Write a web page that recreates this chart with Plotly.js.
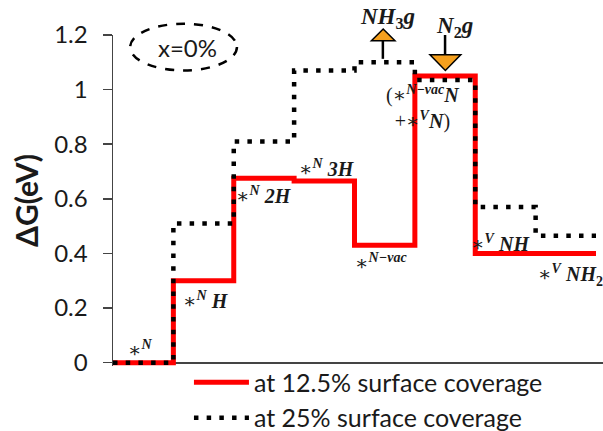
<!DOCTYPE html>
<html>
<head>
<meta charset="utf-8">
<script src="https://cdn.plot.ly/plotly-3.0.1.min.js"></script>
<style>html,body{margin:0;padding:0;background:#fff;}#chart{width:603px;height:431px;}</style>
</head>
<body>
<div id="chart"></div>
<script>
// Reaction steps (x positions of each step start) and free energies (eV)
const steps = [0, 1, 2, 3, 4, 5, 6, 7, 8];
const cov125 = [0, 0.30, 0.675, 0.665, 0.43, 1.05, 0.40, 0.40, 0.40];
const cov25  = [0, 0.51, 0.81, 1.07, 1.10, 1.035, 0.57, 0.465, 0.465];
const seriesNames = ['at 12.5% surface coverage', 'at 25% surface coverage'];
const yTickVals = [0, 0.2, 0.4, 0.6, 0.8, 1, 1.2];
const yTickText = ['0', '0.2', '0.4', '0.6', '0.8', '1', '1.2'];

// Intermediate labels: text, anchor step, anchor energy
const st = '∗';
const B = s => '<b><i>' + s + '</i></b>';
const labelTexts = [
  st + '<sup>' + B('N') + '</sup>',
  st + '<sup>' + B('N') + '</sup> ' + B('H'),
  st + '<sup>' + B('N') + '</sup> ' + B('2H'),
  st + '<sup>' + B('N') + '</sup> ' + B('3H'),
  st + '<sup>' + B('N−vac') + '</sup>',
  '(' + st + '<sup>' + B('N−vac') + '</sup>' + B('N') + '<br>+' + st + '<sup>' + B('V') + '</sup>' + B('N') + ')',
  st + '<sup>' + B('V') + '</sup> ' + B('NH'),
  st + '<sup>' + B('V') + '</sup> ' + B('NH') + '<sub><b>2</b></sub>'
];
const labelX = [0.45, 1.54, 2.50, 3.545, 4.44, 5.13, 6.41, 7.57];
const labelY = [0.051, 0.231, 0.615, 0.714, 0.37, 0.934, 0.44, 0.322];
// Gas-phase labels (above the axis range, placed in paper units)
const gasTexts = [B('NH') + '<sub><b>3</b></sub>' + B('g'), B('N') + '<sub><b>2</b></sub>' + B('g')];
const gasX = [4.54, 5.66];
const gasYPaper = [1.052, 1.025];

const traces = [
  {x: steps, y: cov125, name: seriesNames[0], type: 'scatter', mode: 'lines',
   line: {shape: 'hv', color: '#ff0000', width: 5}},
  {x: steps, y: cov25, name: seriesNames[1], type: 'scatter', mode: 'lines',
   line: {shape: 'hv', color: '#000000', width: 4.5, dash: '4.5px,8.2px'}}
];

const labelFont = {family: 'Liberation Serif, DejaVu Serif, serif', size: 20, color: '#1a1a1a'};
const gasFont = {family: 'Liberation Serif, DejaVu Serif, serif', size: 23, color: '#1a1a1a'};
const annotations = labelTexts.map((t, i) => ({
  x: labelX[i], y: labelY[i], xref: 'x', yref: 'y', text: t, showarrow: false,
  font: labelFont, xanchor: 'center', yanchor: 'middle'
}));
gasTexts.forEach((t, i) => annotations.push({
  x: gasX[i], y: gasYPaper[i], xref: 'x', yref: 'paper', text: t, showarrow: false,
  font: gasFont, xanchor: 'center', yanchor: 'middle'
}));
annotations.push({x: 0.153, y: 0.963, xref: 'paper', yref: 'paper', text: 'x=0%', showarrow: false,
  font: {family: 'Lato, sans-serif', size: 24, color: '#1a1a1a'}, xanchor: 'center', yanchor: 'middle'});

const orange = '#f5a01e';
const shapes = [
  // dashed ellipse around x=0%
  {type: 'circle', xref: 'paper', yref: 'paper', x0: 0.035, x1: 0.253, y0: 0.893, y1: 1.034,
   line: {color: '#000', width: 2.5, dash: 'dash'}},
  // NH3 release arrow (up)
  {type: 'line', xref: 'x', yref: 'paper', x0: 4.47, x1: 4.47, y0: 0.928, y1: 0.985, line: {color: '#000', width: 2.5}},
  {type: 'path', xref: 'x', yref: 'paper', path: 'M4.28,0.983 L4.67,0.983 L4.475,1.018 Z',
   fillcolor: orange, line: {color: '#000', width: 1.5}},
  // N2 adsorption arrow (down)
  {type: 'line', xref: 'x', yref: 'paper', x0: 5.50, x1: 5.50, y0: 0.94, y1: 1.0, line: {color: '#000', width: 2.5}},
  {type: 'path', xref: 'x', yref: 'paper', path: 'M5.25,0.94 L5.76,0.94 L5.505,0.893 Z',
   fillcolor: orange, line: {color: '#000', width: 1.5}}
];

const layout = {
  width: 603, height: 431,
  margin: {l: 113, r: 0, t: 35, b: 65, autoexpand: false},
  paper_bgcolor: '#fff', plot_bgcolor: '#fff',
  showlegend: true,
  legend: {x: 0.155, y: 0.166, xanchor: 'left', yanchor: 'top', yref: 'container', orientation: 'v',
    font: {family: 'Lato, sans-serif', size: 25, color: '#1a1a1a'}, itemwidth: 55, tracegroupgap: 0,
    bgcolor: 'rgba(0,0,0,0)'},
  xaxis: {range: [0, 8.116], showticklabels: false, showgrid: false, zeroline: false, showline: false, ticks: ''},
  yaxis: {range: [-0.0121, 1.2], tickvals: yTickVals, ticktext: yTickText, ticks: 'outside', ticklen: 9,
    tickwidth: 1.5, tickcolor: '#444', showline: true, linecolor: '#444', linewidth: 1.5, showgrid: false,
    zeroline: true, zerolinecolor: '#444', zerolinewidth: 2, ticklabelstandoff: 10,
    tickfont: {family: 'Lato, sans-serif', size: 24, color: '#1a1a1a'},
    title: {text: '<b>ΔG(eV)</b>', font: {family: 'Lato, sans-serif', size: 30, color: '#1a1a1a'}, standoff: 6},
    automargin: false},
  annotations: annotations,
  shapes: shapes
};

Plotly.newPlot('chart', traces, layout, {displayModeBar: false, staticPlot: true});
</script>
</body>
</html>
